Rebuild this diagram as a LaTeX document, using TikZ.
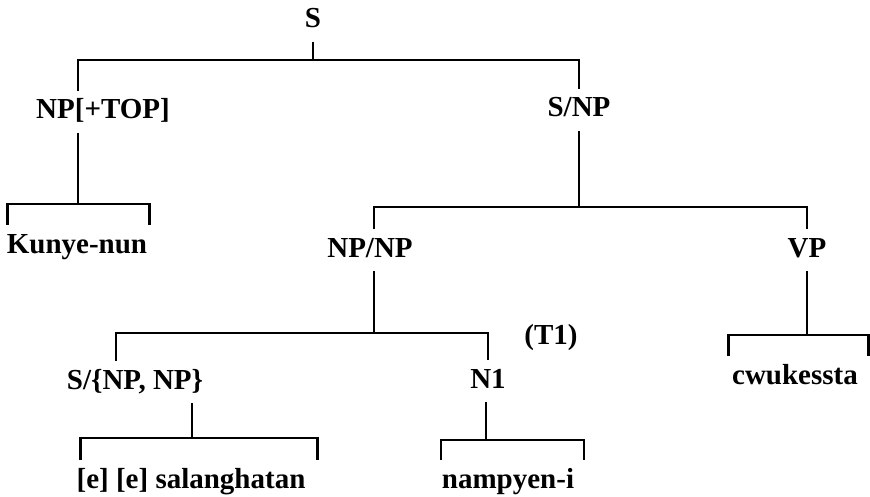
\documentclass[tikz,border=0pt]{standalone}
\usepackage{fontspec}
\setmainfont{Liberation Serif}
\usepackage{tikz}
\usetikzlibrary{calc, positioning}

\begin{document}
\begin{tikzpicture}[x=1pt, y=-1pt,
    lbl/.style={anchor=base, inner sep=0pt, outer xsep=2pt, outer ysep=8pt,
        text height=20pt, text depth=6pt, font=\fontsize{29}{32}\selectfont\bfseries},
    branch/.style={line width=2.8pt}]

    % =================================================================
    % 1. KHUNG HINH (toa do tinh theo diem anh, truc y huong xuong)
    % =================================================================
    \useasboundingbox (0,0) rectangle (870,497);

    % =================================================================
    % 2. CAC NHAN CUA CAY
    % =================================================================
    \node[lbl] (S)       at (313,28)  {S};
    \node[lbl] (NPTOP)   at (103,119) {NP[+TOP]};
    \node[lbl] (SNP)     at (579,117) {S/NP};
    \node[lbl] (Kunye)   at (77,253)  {Kunye-nun};
    \node[lbl] (NPNP)    at (370,257) {NP/NP};
    \node[lbl] (VP)      at (807,257) {VP};
    \node[lbl] (SNPNP)   at (135,389) {S/\{NP,\ NP\}};
    \node[lbl] (N1)      at (488,388) {N1};
    \node[lbl] (T1)      at (551,344) {(T1)};
    \node[lbl] (cwuk)    at (795,384) {cwukessta};
    \node[lbl] (salang)  at (191,488) {[e] [e] salanghatan};
    \node[lbl] (nampyen) at (508,488) {nampyen-i};

    % diem noi cua cac thanh ngang
    \coordinate (j0) at (313,60);
    \coordinate (j1) at (78,204);
    \coordinate (j2) at (579,207);
    \coordinate (j3) at (374,333);
    \coordinate (j4) at (807,335);
    \coordinate (j5) at (192,438);
    \coordinate (j6) at (486,440);

    % =================================================================
    % 3. CAC NHANH
    % =================================================================
    % S -> NP[+TOP], S/NP
    \draw[branch] (S.south) -- (j0);
    \draw[branch] (NPTOP.north -| j1) |- (j0) -| (SNP.north);

    % NP[+TOP] -> Kunye-nun
    \draw[branch] (NPTOP.south -| j1) -- (j1);
    \draw[branch] ([xshift=3pt]Kunye.north west) |- (j1) -| ([xshift=0pt]Kunye.north east);

    % S/NP -> NP/NP, VP
    \draw[branch] (SNP.south) -- (j2);
    \draw[branch] (NPNP.north -| j3) |- (j2) -| (VP.north);

    % NP/NP -> S/{NP, NP}, N1
    \draw[branch] (NPNP.south -| j3) -- (j3);
    \draw[branch] ([xshift=-19pt]SNPNP.north) |- (j3) -| (N1.north);

    % VP -> cwukessta
    \draw[branch] ([xshift=-2pt]cwuk.north west) |- (j4) -| ([xshift=9pt]cwuk.north east);

    % S/{NP, NP} -> [e] [e] salanghatan
    \draw[branch] (SNPNP.south -| j5) -- (j5);
    \draw[branch] ([xshift=6pt]salang.north west) |- (j5) -| ([xshift=10pt]salang.north east);

    % N1 -> nampyen-i
    \draw[branch] (N1.south -| j6) -- (j6);
    \draw[branch] ([xshift=1pt]nampyen.north west) |- (j6) -| ([xshift=8pt]nampyen.north east);

    % VP -> stem
    \draw[branch] (VP.south) -- (j4);

\end{tikzpicture}
\end{document}
